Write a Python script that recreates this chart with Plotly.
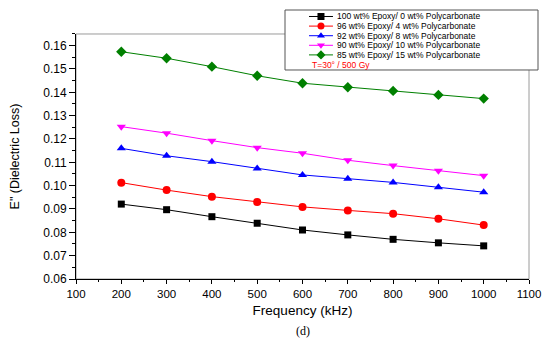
import plotly.graph_objects as go

freq = [200, 300, 400, 500, 600, 700, 800, 900, 1000]
names = [
    "100 wt% Epoxy/ 0 wt% Polycarbonate",
    "96 wt% Epoxy/ 4 wt% Polycarbonate",
    "92 wt% Epoxy/ 8 wt% Polycarbonate",
    "90 wt% Epoxy/ 10 wt% Polycarbonate",
    "85 wt% Epoxy/ 15 wt% Polycarbonate",
]
ep100 = [0.0921, 0.0897, 0.0867, 0.0839, 0.0810, 0.0789, 0.0770, 0.0755, 0.0742]
ep96 = [0.1013, 0.0981, 0.0953, 0.0930, 0.0909, 0.0894, 0.0880, 0.0858, 0.0831]
ep92 = [0.1160, 0.1128, 0.1103, 0.1074, 0.1046, 0.1030, 0.1014, 0.0993, 0.0972]
ep90 = [0.1253, 0.1225, 0.1193, 0.1163, 0.1139, 0.1109, 0.1086, 0.1064, 0.1043]
ep85 = [0.1574, 0.1546, 0.1510, 0.1471, 0.1439, 0.1422, 0.1406, 0.1389, 0.1373]
series = [ep100, ep96, ep92, ep90, ep85]
colors = ["#000000", "#ff0000", "#0000ff", "#ff00ff", "#008000"]
symbols = ["square", "circle", "triangle-up", "triangle-down", "diamond"]
msizes = [7, 8, 8, 8, 8]
note = "T=30° / 500 Gy"

font = "Liberation Sans, Arial, sans-serif"

fig = go.Figure()
for nm, ys, c, s, ms in zip(names, series, colors, symbols, msizes):
    fig.add_trace(go.Scatter(
        x=freq, y=ys, name=nm, mode="lines+markers",
        line=dict(color=c, width=1),
        marker=dict(symbol=s, size=ms, color=c),
        showlegend=False,
    ))
    # legend sample (inset axis, one row per series name)
    fig.add_trace(go.Scatter(
        x=[0, 1, 2], y=[nm] * 3, mode="lines+markers",
        line=dict(color=c, width=1),
        marker=dict(symbol=s, size=7, color=c, opacity=[0, 1, 0]),
        xaxis="x2", yaxis="y2", showlegend=False, hoverinfo="skip",
    ))

ytop = 0.9108  # main y-axis domain top (plot area top)
# page has an 8px body margin, so the figure is drawn 8px smaller / shifted
fig.update_layout(
    width=542, height=333,
    margin=dict(l=68, r=21, t=2, b=62),
    paper_bgcolor="white", plot_bgcolor="white",
    font=dict(family=font, size=11, color="black"),
    xaxis=dict(
        domain=[0, 1],
        range=[100, 1100], dtick=100, tick0=100,
        showgrid=False, zeroline=False,
        showline=True, linecolor="black", linewidth=1,
        ticks="outside", ticklen=4, tickcolor="black",
        minor=dict(ticks="outside", ticklen=2, dtick=50, tickcolor="black"),
        tickfont=dict(size=11.5),
        title=dict(text="Frequency (kHz)", font=dict(size=13.5), standoff=6),
    ),
    yaxis=dict(
        domain=[0, ytop],
        range=[0.06, 0.165], dtick=0.01, tick0=0.06, tickformat=".2f",
        showgrid=False, zeroline=False,
        showline=True, linecolor="black", linewidth=1,
        ticks="outside", ticklen=6, tickcolor="black",
        minor=dict(ticks="outside", ticklen=3, dtick=0.005, tickcolor="black"),
        tickfont=dict(size=12),
        title=dict(text='E" (Dielectric Loss)', font=dict(size=12.5), standoff=20),
    ),
    xaxis2=dict(domain=[0.5143, 0.5673], anchor="y2", range=[0, 2], visible=False),
    yaxis2=dict(
        domain=[0.8152, 0.9937], anchor="x2", type="category",
        categoryorder="array", categoryarray=names, range=[4.5, -0.5],
        tickmode="array", tickvals=names, ticktext=names,
        side="right", showline=False, showgrid=False, zeroline=False,
        ticks="", tickfont=dict(size=8.5), ticklabelstandoff=3,
    ),
    shapes=[
        dict(type="rect", xref="x domain", yref="y domain", x0=0, x1=1, y0=0, y1=1,
             line=dict(color="#9a9a9a", width=1), layer="below"),
        dict(type="rect", xref="paper", yref="paper", x0=0.4614, x1=1.0199,
             y0=0.777, y1=1.0, fillcolor="white",
             line=dict(color="#555555", width=1), layer="below"),
    ],
    annotations=[
        dict(text="(d)", xref="paper", yref="paper", x=0.5, y=-0.193, yanchor="middle",
             showarrow=False,
             font=dict(family="Liberation Serif, Times New Roman, serif", size=12)),
        dict(text=note, xref="paper", yref="paper", x=0.5166, y=0.7968,
             xanchor="left", yanchor="middle", showarrow=False,
             font=dict(color="red", size=8.5)),
    ],
)

fig.write_html("out.html")
